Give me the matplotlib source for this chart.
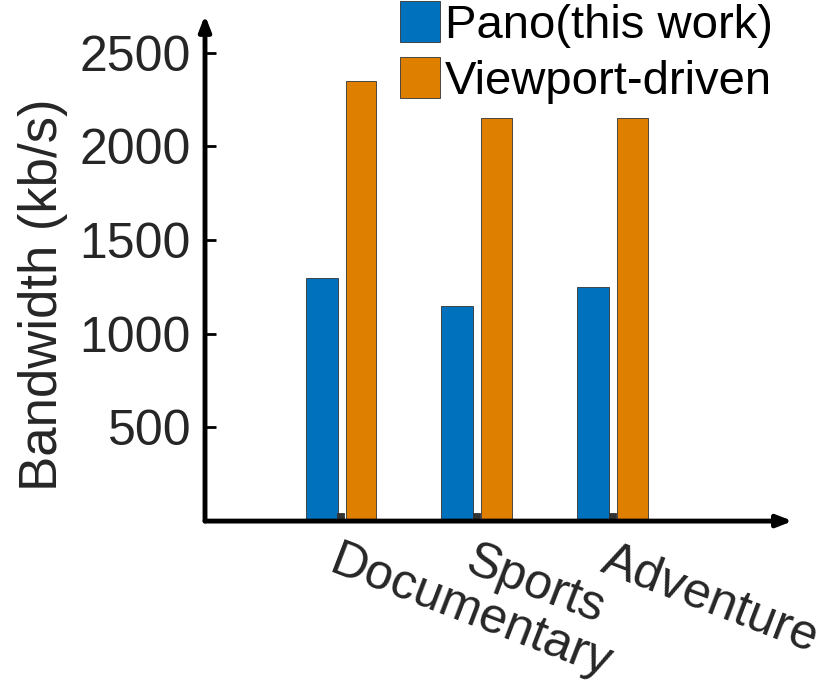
import numpy as np
import matplotlib
matplotlib.use("Agg")
import matplotlib.pyplot as plt

plt.rcParams['font.family'] = ['Liberation Sans', 'DejaVu Sans']

categories = ["Documentary", "Sports", "Adventure"]
pano = [1300, 1150, 1250]
viewport = [2350, 2150, 2150]
other = [45, 45, 45]
yticks = [500, 1000, 1500, 2000, 2500]

fig = plt.figure(figsize=(8.3, 6.92), dpi=100)
ax = fig.add_axes([0.247, 0.247, 0.708, 0.731])

x = np.arange(1, len(categories) + 1)
ax.bar(x - 0.14, pano, width=0.235, color='#0072BD', edgecolor='#333333',
       linewidth=0.6, label='Pano(this work)')
ax.bar(x + 0.0, other, width=0.05, color='#333333', edgecolor='#333333', linewidth=0.6)
ax.bar(x + 0.148, viewport, width=0.225, color='#DF7F00', edgecolor='#333333',
       linewidth=0.6, label='Viewport-driven')

ax.set_xlim(0, 4.33)
ax.set_ylim(0, 2700)

for s in ax.spines.values():
    s.set_visible(False)

# axis arrows
ax.annotate('', xy=(1.0, 0), xytext=(0, 0), xycoords='axes fraction',
            arrowprops=dict(arrowstyle='-|>,head_length=0.9,head_width=0.35',
                            color='black', lw=3.5, shrinkA=0, shrinkB=0))
ax.annotate('', xy=(0, 1.0), xytext=(0, 0), xycoords='axes fraction',
            arrowprops=dict(arrowstyle='-|>,head_length=0.9,head_width=0.35',
                            color='black', lw=3.5, shrinkA=0, shrinkB=0))

ax.set_yticks(yticks)
ax.set_yticklabels([str(v) for v in yticks], fontsize=36, color='#262626')
ax.tick_params(axis='y', direction='in', length=8, width=2, pad=10)

ax.set_xticks(x)
ax.set_xticklabels(categories, fontsize=36, color='#262626', rotation=-21,
                   ha='left', va='top', rotation_mode='anchor')
ax.tick_params(axis='x', length=0, pad=12)

ax.set_ylabel('Bandwidth (kb/s)', fontsize=38, color='#262626')
ax.yaxis.set_label_coords(-0.233, 0.447)

leg = ax.legend(loc='upper left', bbox_to_anchor=(0.3, 1.065), frameon=False,
                fontsize=34, handlelength=0.85, handleheight=0.95, handletextpad=0.1,
                labelspacing=0.2, borderaxespad=0)

fig.savefig('out.png', dpi=100)
